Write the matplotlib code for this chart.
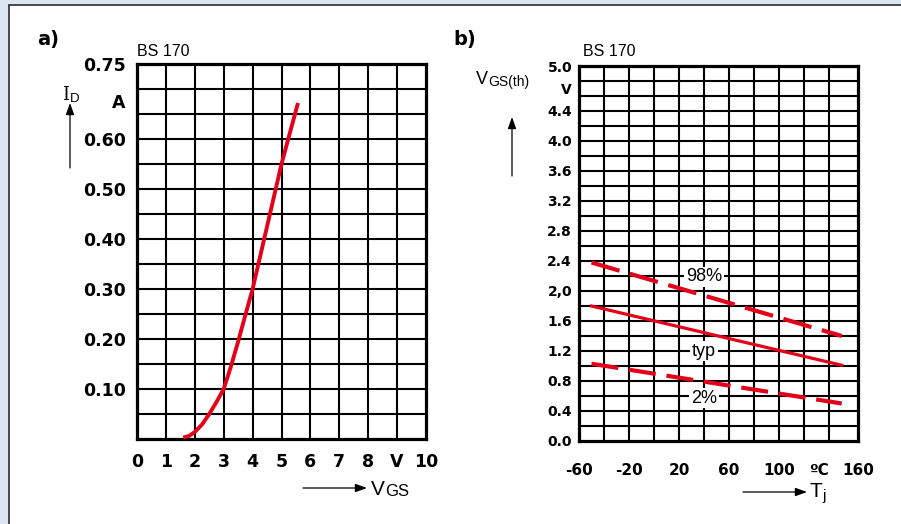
import matplotlib
matplotlib.use('Agg')
import matplotlib.pyplot as plt
from matplotlib.patches import Rectangle, FancyArrowPatch
import numpy as np

# panel a) drain current vs gate-source voltage
vgs = [1.6, 1.8, 2.0, 2.25, 2.5, 2.75, 3.0, 3.25, 3.5, 3.75, 4.0, 4.5, 5.0, 5.57]
id_a = [0.003, 0.006, 0.014, 0.029, 0.05, 0.074, 0.10, 0.145, 0.195, 0.248, 0.30, 0.425, 0.55, 0.672]
a_xticks = [0, 1, 2, 3, 4, 5, 6, 7, 8, 9, 10]
a_xlabels = ['0', '1', '2', '3', '4', '5', '6', '7', '8', 'V', '10']
a_yticks = [0.10, 0.20, 0.30, 0.40, 0.50, 0.60, 0.675, 0.75]
a_ylabels = ['0.10', '0.20', '0.30', '0.40', '0.50', '0.60', 'A', '0.75']

# panel b) threshold voltage vs junction temperature
tj = [-50, 150]
vth_98 = [2.38, 1.40]
vth_typ = [1.80, 1.01]
vth_2 = [1.03, 0.50]
b_xticks = [-60, -20, 20, 60, 100, 132, 163]
b_xlabels = ['-60', '-20', '20', '60', '100', 'ºC', '160']
b_yticks = [0.0, 0.4, 0.8, 1.2, 1.6, 2.0, 2.4, 2.8, 3.2, 3.6, 4.0, 4.4, 4.7, 5.0]
b_ylabels = ['0.0', '0.4', '0.8', '1.2', '1.6', '2,0', '2.4', '2.8', '3.2', '3.6', '4.0', '4.4', 'V', '5.0']

RED = '#e2001a'
W, H = 901, 524


def fc(x, y):
    # pixel position (from top left) -> figure fraction
    return x / W, 1 - y / H


def grid(ax, xs, ys):
    for x in xs:
        ax.axvline(x, color='black', lw=1.5, zorder=1)
    for y in ys:
        ax.axhline(y, color='black', lw=1.5, zorder=1)


fig = plt.figure(figsize=(W / 100, H / 100), dpi=100, facecolor='#dce6f2')
fig.patches.append(Rectangle(fc(9, 540), 1.0, (540 - 5) / H, transform=fig.transFigure,
                             facecolor='white', edgecolor='#3a3a3a', lw=1.3, zorder=-5))

bold = dict(family='DejaVu Sans', weight='bold')
sans = 'Liberation Sans'

# ---- a)
ax1 = fig.add_axes([137 / W, 1 - 439 / H, 289 / W, 375 / H])
ax1.set_xlim(0, 10)
ax1.set_ylim(0, 0.75)
grid(ax1, np.arange(1, 10, 1), np.arange(0.05, 0.74, 0.05))
ax1.set_xticks(a_xticks)
ax1.set_xticklabels(a_xlabels, fontsize=12.5, **bold)
ax1.set_yticks(a_yticks)
ax1.set_yticklabels(a_ylabels, fontsize=12.5, **bold)
ax1.tick_params(which='both', length=0)
ax1.tick_params(axis='x', pad=10)
ax1.tick_params(axis='y', pad=8)
for s in ax1.spines.values():
    s.set_linewidth(2.3)
ax1.plot(vgs, id_a, color=RED, lw=2.8, solid_capstyle='butt', zorder=3)

# ---- b)
ax2 = fig.add_axes([579 / W, 1 - 441 / H, 279 / W, 375 / H])
ax2.set_xlim(-60, 160)
ax2.set_ylim(0, 5.0)
grid(ax2, np.arange(-40, 160, 20), np.arange(0.2, 4.9, 0.2))
ax2.set_xticks(b_xticks)
ax2.set_xticklabels(b_xlabels, fontsize=11, **bold)
ax2.set_yticks(b_yticks)
ax2.set_yticklabels(b_ylabels, fontsize=10, **bold)
ax2.tick_params(which='both', length=0)
ax2.tick_params(axis='x', pad=16)
ax2.tick_params(axis='y', pad=5)
for s in ax2.spines.values():
    s.set_linewidth(2.3)
ax2.plot(tj, vth_98, color=RED, lw=3, dashes=(7, 2.6), zorder=3)
ax2.plot(tj, vth_typ, color=RED, lw=2.3, zorder=3)
ax2.plot(tj, vth_2, color=RED, lw=3, dashes=(6.5, 2.6), zorder=3)
box = dict(facecolor='white', edgecolor='none', pad=1.2)
ax2.text(40, 2.19, '98%', ha='center', va='center', fontsize=13, family=sans, bbox=box, zorder=4)
ax2.text(40, 1.20, 'typ', ha='center', va='center', fontsize=13, family=sans, bbox=box, zorder=4)
ax2.text(40, 0.57, '2%', ha='center', va='center', fontsize=13, family=sans, bbox=box, zorder=4)

# ---- labels and arrows
fig.text(*fc(37, 40), 'a)', fontsize=14, va='center', **bold)
fig.text(*fc(453, 40), 'b)', fontsize=14, va='center', **bold)
fig.text(*fc(137, 56), 'BS 170', fontsize=11.5, family=sans, va='baseline')
fig.text(*fc(583, 56), 'BS 170', fontsize=11.5, family=sans, va='baseline')

fig.text(*fc(62, 100), 'I', fontsize=13, family='DejaVu Serif', va='baseline')
fig.text(*fc(70, 102), 'D', fontsize=9.5, family=sans, va='baseline')
fig.text(*fc(371, 495), 'V', fontsize=15, family=sans, va='baseline')
fig.text(*fc(385, 496), 'GS', fontsize=12, family=sans, va='baseline')
fig.text(*fc(476, 84), 'V', fontsize=13, family=sans, va='baseline')
fig.text(*fc(488, 86), 'GS(th)', fontsize=10, family=sans, va='baseline')
fig.text(*fc(809, 497), 'T', fontsize=15, family=sans, va='baseline')
fig.text(*fc(822, 500), 'j', fontsize=11, family=sans, va='baseline')

arrow = dict(arrowstyle='-|>,head_length=0.5,head_width=0.18', color='black', lw=0.9,
             shrinkA=0, shrinkB=0, mutation_scale=14)
for (x0, y0, x1, y1) in [(70, 168, 70, 103), (303, 488, 367, 488),
                         (512, 176, 512, 117), (743, 492, 807, 492)]:
    fig.add_artist(FancyArrowPatch(fc(x0, y0), fc(x1, y1),
                                   transform=fig.transFigure, **arrow))

plt.savefig('out.png', dpi=100, facecolor=fig.get_facecolor())
